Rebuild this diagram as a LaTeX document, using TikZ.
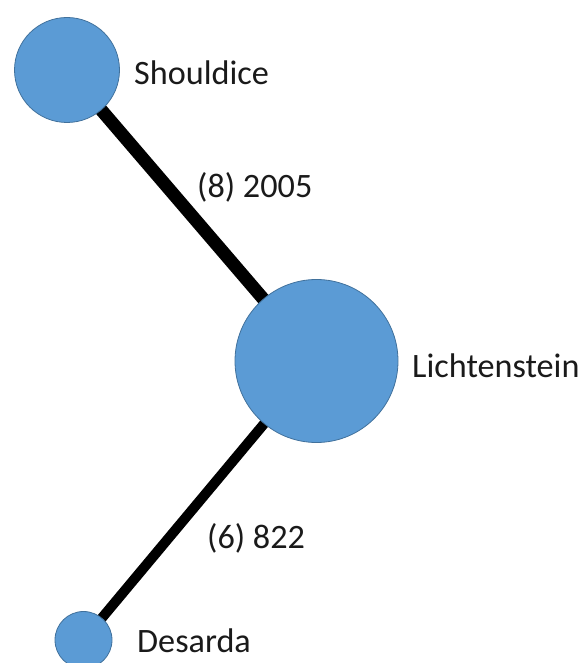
\documentclass[tikz,border=0pt]{standalone}
\usepackage{fontspec}
\setmainfont{Carlito}
\usetikzlibrary{backgrounds}
\definecolor{nodefill}{HTML}{5B9BD5}
\definecolor{nodeline}{HTML}{41719C}
\definecolor{txt}{HTML}{1A1A1A}
\begin{document}
\begin{tikzpicture}[x=1pt,y=-1pt,
  vert/.style={circle,fill=nodefill,draw=nodeline,line width=0.8pt,inner sep=0pt},
  lbl/.style={anchor=base west,inner sep=0pt,text=txt,font=\fontsize{34.2}{40}\selectfont},
  edge/.style={draw=black,line cap=butt}]
\useasboundingbox (0,0) rectangle (582,663);
\node[vert,minimum size=105pt] (shouldice) at (67,70) {};
\node[vert,minimum size=163pt] (lichtenstein) at (316.5,361) {};
\node[vert,minimum size=57pt] (desarda) at (83.5,640) {};
\node[lbl] (tshouldice) at (134,85) {Shouldice};
\node[lbl] (tlichtenstein) at (412,377) {Lichtenstein};
\node[lbl] (tdesarda) at (137,652) {Desarda};
\node[lbl] (e1) at (197,197) {(8) 2005};
\node[lbl] (e2) at (207,548) {(6) 822};
\begin{scope}[on background layer]
\draw[edge,line width=13pt] (shouldice.center) -- (lichtenstein.center);
\draw[edge,line width=10pt] (lichtenstein.center) -- (desarda.center);
\end{scope}
\end{tikzpicture}
\end{document}
